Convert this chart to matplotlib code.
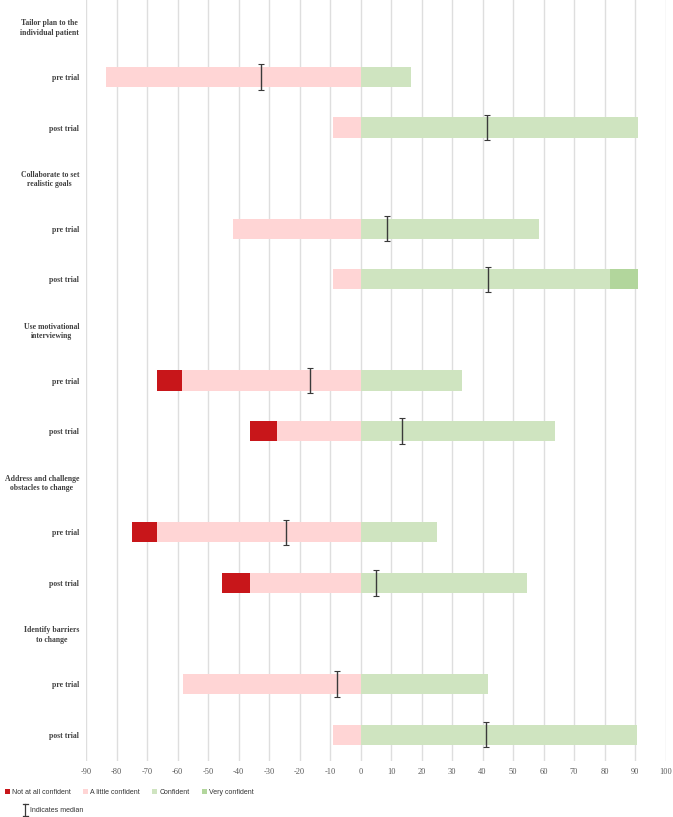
import matplotlib.pyplot as plt
import numpy as np
from matplotlib.patches import Patch
from matplotlib.lines import Line2D

# Skills (group headings) and the two time points per skill
SKILLS = [
    "Tailor plan to the\nindividual patient",
    "Collaborate to set\nrealistic goals",
    "Use motivational\ninterviewing",
    "Address and challenge\nobstacles to change",
    "Identify barriers\nto change",
]
PHASES = ["pre trial", "post trial"]

# Percentages per bar, order: skill1 pre, skill1 post, skill2 pre, ...
NOT_AT_ALL = [0, 0, 0, 0, 8.2, 8.8, 8.3, 9.1, 0, 0]
A_LITTLE = [83.3, 9.0, 41.7, 8.9, 58.4, 27.4, 66.7, 36.3, 58.1, 9.0]
CONFIDENT = [16.6, 90.9, 58.4, 81.8, 33.4, 63.8, 25.0, 54.6, 41.7, 90.7]
VERY = [0, 0, 0, 9.3, 0, 0, 0, 0, 0, 0]
MEDIAN = [-32.6, 41.5, 8.6, 41.9, -16.7, 13.6, -24.5, 5.2, -7.6, 41.2]

LEGEND_LABELS = ["Not at all confident", "A little confident", "Confident", "Very confident"]
COLORS = ["#C8161A", "#FFD5D5", "#CFE4C0", "#B2D69C"]

SERIF = ["Liberation Serif", "DejaVu Serif"]
TEXT_COLOR = "#404040"

plt.rcParams["axes.unicode_minus"] = False


def main() -> None:
    fig = plt.figure(figsize=(6.73, 8.17), dpi=100)
    ax = fig.add_axes([86 / 673, 1 - 761 / 817, (665.5 - 86) / 673, 761 / 817])

    # Row layout: heading, pre, post for each skill
    tick_pos, tick_lab = [], []
    bar_y = []
    for g, skill in enumerate(SKILLS):
        tick_pos.append(3 * g)
        tick_lab.append(skill)
        for p, phase in enumerate(PHASES):
            tick_pos.append(3 * g + 1 + p)
            tick_lab.append(phase)
            bar_y.append(3 * g + 1 + p)
    bar_y = np.array(bar_y)

    not_at_all = np.array(NOT_AT_ALL)
    a_little = np.array(A_LITTLE)
    confident = np.array(CONFIDENT)
    very = np.array(VERY)

    h = 0.4
    ax.barh(bar_y, -a_little, height=h, color=COLORS[1], zorder=2)
    ax.barh(bar_y, -not_at_all, left=-a_little, height=h, color=COLORS[0], zorder=2)
    ax.barh(bar_y, confident, height=h, color=COLORS[2], zorder=2)
    ax.barh(bar_y, very, left=confident, height=h, color=COLORS[3], zorder=2)

    ax.errorbar(MEDIAN, bar_y, yerr=0.25, fmt="none", ecolor="#3a3a3a",
                elinewidth=1.0, capsize=2.5, capthick=0.8, zorder=3)

    ax.set_xlim(-90, 100)
    ax.set_ylim(14.52, -0.52)
    ax.set_xticks(np.arange(-90, 101, 10))
    ax.grid(axis="x", color="#DEDEDE", linewidth=1.0, zorder=0)
    ax.set_axisbelow(True)
    for s in ax.spines.values():
        s.set_visible(False)

    ax.set_yticks(tick_pos)
    ax.set_yticklabels(tick_lab)
    for lab in ax.get_yticklabels():
        lab.set_fontfamily(SERIF)
        lab.set_fontweight("bold")
        lab.set_fontsize(5.6)
        lab.set_color(TEXT_COLOR)
        lab.set_multialignment("center")
        lab.set_linespacing(1.2)
    for lab in ax.get_xticklabels():
        lab.set_fontfamily(SERIF)
        lab.set_fontsize(6)
        lab.set_color("#595959")
    ax.tick_params(axis="both", length=0)
    ax.tick_params(axis="y", pad=5)
    ax.tick_params(axis="x", pad=5)

    handles = [Patch(facecolor=c, edgecolor="none") for c in COLORS]
    fig.legend(handles, LEGEND_LABELS, loc="center left",
               bbox_to_anchor=(0.0, 1 - 792 / 817), ncol=4, frameon=False,
               prop={"family": "Liberation Sans", "size": 5},
               handlelength=0.7, handleheight=0.7, handletextpad=0.3,
               columnspacing=1.8, borderpad=0.2, labelcolor="#333333")

    # Median key
    x0 = 25 / 673
    y_top, y_bot = 1 - 804 / 817, 1 - 816 / 817
    cw = 2.5 / 673
    for seg in ([(x0, x0), (y_top, y_bot)],
                [(x0 - cw, x0 + cw), (y_top, y_top)],
                [(x0 - cw, x0 + cw), (y_bot, y_bot)]):
        fig.add_artist(Line2D(seg[0], seg[1], color="#3a3a3a", linewidth=0.9,
                              transform=fig.transFigure))
    fig.text(30 / 673, 1 - 810.5 / 817, "Indicates median", fontsize=5,
             family="Liberation Sans", color="#333333", va="center", ha="left")

    fig.savefig("out.png", dpi=100)
    plt.close(fig)


if __name__ == "__main__":
    main()
